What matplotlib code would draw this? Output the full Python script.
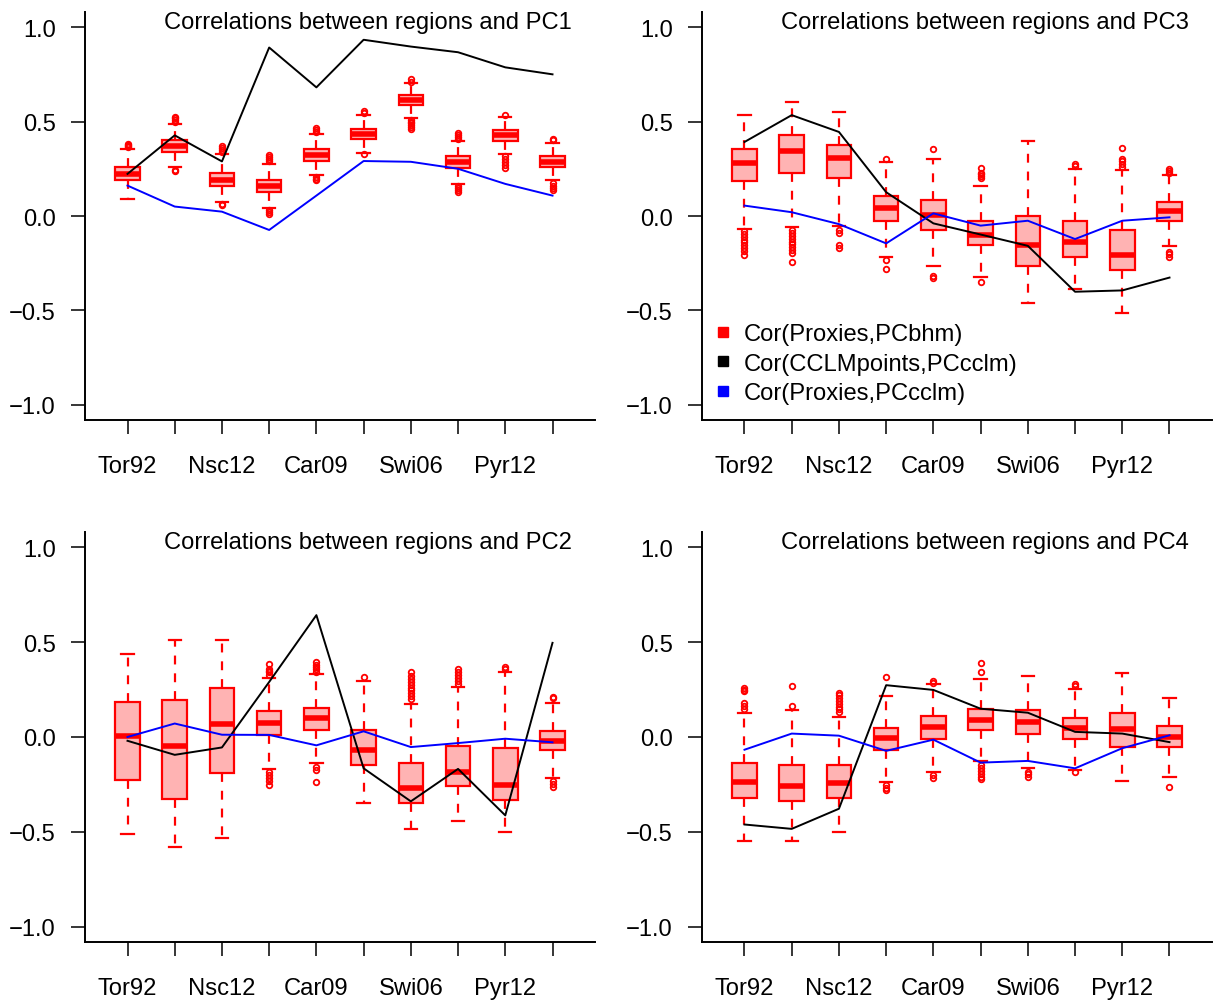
import matplotlib
matplotlib.use("Agg")
import matplotlib.pyplot as plt
from matplotlib.lines import Line2D

plt.rcParams['font.family'] = ['Liberation Sans', 'DejaVu Sans']

regions = ['Tor92', '', 'Nsc12', '', 'Car09', '', 'Swi06', '', 'Pyr12', '']

# PC1
pc1_q1 = [0.188, 0.339, 0.158, 0.126, 0.291, 0.410, 0.587, 0.254, 0.397, 0.259]
pc1_med = [0.220, 0.369, 0.193, 0.158, 0.324, 0.436, 0.613, 0.285, 0.427, 0.287]
pc1_q3 = [0.259, 0.400, 0.229, 0.188, 0.353, 0.463, 0.640, 0.316, 0.454, 0.316]
pc1_lo = [0.090, 0.259, 0.076, 0.041, 0.215, 0.335, 0.521, 0.170, 0.330, 0.188]
pc1_hi = [0.356, 0.489, 0.330, 0.277, 0.436, 0.534, 0.702, 0.397, 0.525, 0.387]
pc1_out = [[0.365, 0.372, 0.378, 0.383],
           [0.50, 0.51, 0.518, 0.525, 0.245, 0.238],
           [0.34, 0.352, 0.362, 0.37, 0.065, 0.059],
           [0.29, 0.30, 0.312, 0.321, 0.03, 0.02, 0.011],
           [0.445, 0.455, 0.466, 0.205, 0.195, 0.19],
           [0.545, 0.555, 0.328],
           [0.712, 0.723, 0.51, 0.50, 0.49, 0.48, 0.47, 0.463],
           [0.41, 0.42, 0.43, 0.44, 0.16, 0.15, 0.14, 0.129],
           [0.534, 0.32, 0.30, 0.285, 0.27, 0.254],
           [0.40, 0.406, 0.175, 0.16, 0.148, 0.138]]
pc1_cclm = [0.223, 0.427, 0.289, 0.892, 0.681, 0.933, 0.897, 0.867, 0.787, 0.750]
pc1_prox = [0.161, 0.050, 0.023, -0.074, 0.108, 0.291, 0.287, 0.250, 0.170, 0.108]

# PC2
pc2_q1 = [-0.227, -0.324, -0.191, 0.012, 0.035, -0.147, -0.346, -0.259, -0.333, -0.071]
pc2_med = [0.004, -0.050, 0.066, 0.074, 0.098, -0.071, -0.271, -0.183, -0.254, -0.020]
pc2_q3 = [0.184, 0.193, 0.257, 0.137, 0.154, 0.039, -0.135, -0.050, -0.059, 0.034]
pc2_lo = [-0.511, -0.582, -0.534, -0.168, -0.138, -0.346, -0.484, -0.445, -0.502, -0.215]
pc2_hi = [0.438, 0.509, 0.512, 0.309, 0.332, 0.293, 0.172, 0.261, 0.344, 0.181]
pc2_out = [[], [], [],
           [0.325, 0.34, 0.35, 0.36, 0.385, -0.185, -0.2, -0.215, -0.23, -0.254],
           [0.345, 0.36, 0.37, 0.38, 0.394, -0.16, -0.175, -0.236],
           [0.317],
           [0.2, 0.215, 0.23, 0.245, 0.26, 0.275, 0.29, 0.305, 0.32, 0.34],
           [0.28, 0.295, 0.31, 0.325, 0.34, 0.358],
           [0.36, 0.37],
           [0.207, 0.21, -0.23, -0.245, -0.262]]
pc2_cclm = [-0.020, -0.094, -0.055, 0.290, 0.642, -0.165, -0.339, -0.168, -0.413, 0.496]
pc2_prox = [0.000, 0.071, 0.012, 0.011, -0.044, 0.030, -0.053, -0.032, -0.009, -0.028]

# PC3
pc3_q1 = [0.183, 0.229, 0.200, -0.025, -0.074, -0.154, -0.264, -0.215, -0.285, -0.025]
pc3_med = [0.282, 0.342, 0.307, 0.041, 0.005, -0.098, -0.154, -0.140, -0.206, 0.028]
pc3_q3 = [0.356, 0.427, 0.374, 0.108, 0.083, -0.028, 0.002, -0.025, -0.073, 0.076]
pc3_lo = [-0.069, -0.060, -0.051, -0.215, -0.264, -0.323, -0.463, -0.388, -0.512, -0.161]
pc3_hi = [0.534, 0.605, 0.548, 0.285, 0.303, 0.158, 0.397, 0.250, 0.245, 0.215]
pc3_out = [[-0.08, -0.095, -0.11, -0.125, -0.14, -0.155, -0.17, -0.185, -0.207],
           [-0.075, -0.09, -0.105, -0.12, -0.135, -0.15, -0.165, -0.18, -0.195, -0.246],
           [-0.075, -0.09, -0.155, -0.172],
           [0.303, -0.232, -0.278],
           [0.353, -0.315, -0.328],
           [0.2, 0.21, 0.22, 0.23, 0.254, -0.348],
           [],
           [0.265, 0.277],
           [0.26, 0.275, 0.29, 0.30, 0.36],
           [0.23, 0.24, 0.25, -0.19, -0.2, -0.216]]
pc3_cclm = [0.392, 0.534, 0.445, 0.126, -0.039, -0.098, -0.158, -0.401, -0.394, -0.326]
pc3_prox = [0.055, 0.020, -0.043, -0.145, 0.014, -0.051, -0.025, -0.122, -0.025, -0.007]

# PC4
pc4_q1 = [-0.319, -0.337, -0.319, -0.067, -0.009, 0.035, 0.018, -0.009, -0.053, -0.051]
pc4_med = [-0.236, -0.259, -0.241, -0.005, 0.053, 0.092, 0.080, 0.048, 0.043, 0.000]
pc4_q3 = [-0.138, -0.147, -0.147, 0.048, 0.110, 0.149, 0.140, 0.101, 0.128, 0.057]
pc4_lo = [-0.546, -0.546, -0.502, -0.236, -0.183, -0.129, -0.161, -0.174, -0.230, -0.209]
pc4_hi = [0.128, 0.140, 0.106, 0.216, 0.278, 0.305, 0.319, 0.252, 0.337, 0.207]
pc4_out = [[0.15, 0.165, 0.18, 0.24, 0.25, 0.257],
           [0.163, 0.27],
           [0.13, 0.145, 0.16, 0.175, 0.19, 0.205, 0.22, 0.234],
           [0.314, -0.255, -0.27, -0.28],
           [0.285, 0.296, -0.2, -0.218],
           [0.34, 0.388, -0.15, -0.165, -0.18, -0.195, -0.21, -0.223],
           [-0.183, -0.195, -0.209],
           [0.27, 0.28, -0.186],
           [],
           [-0.262]]
pc4_cclm = [-0.461, -0.484, -0.378, 0.273, 0.248, 0.149, 0.128, 0.027, 0.018, -0.027]
pc4_prox = [-0.067, 0.018, 0.007, -0.073, -0.014, -0.135, -0.126, -0.165, -0.059, 0.009]

legend_labels = ['Cor(Proxies,PCbhm)', 'Cor(CCLMpoints,PCcclm)', 'Cor(Proxies,PCcclm)']

FS = 17.1


def draw_panel(ax, name, q1, med, q3, lo, hi, out, cclm, prox):
    stats = []
    for i in range(len(med)):
        stats.append(dict(q1=q1[i], med=med[i], q3=q3[i], whislo=lo[i],
                          whishi=hi[i], fliers=out[i]))
    pos = list(range(1, len(med) + 1))
    ax.bxp(stats, positions=pos, widths=0.52, patch_artist=True,
           boxprops=dict(facecolor='#ffb3b3', edgecolor='red', linewidth=1.6),
           medianprops=dict(color='red', linewidth=4, solid_capstyle='butt'),
           whiskerprops=dict(color='red', linewidth=1.6, linestyle=(0, (4, 4))),
           capprops=dict(color='red', linewidth=1.6),
           capwidths=0.26,
           flierprops=dict(marker='o', markersize=4, markerfacecolor='none',
                           markeredgecolor='red', markeredgewidth=1.3))
    ax.plot(pos, cclm, color='black', linewidth=1.4, zorder=5)
    ax.plot(pos, prox, color='blue', linewidth=1.4, zorder=5)

    ax.set_xlim(0.1, 10.9)
    ax.set_ylim(-1.08, 1.08)
    ax.set_xticks(pos)
    ax.set_xticklabels(regions, fontsize=FS)
    ax.set_yticks([-1.0, -0.5, 0.0, 0.5, 1.0])
    ax.set_yticklabels(['\u22121.0', '\u22120.5', '0.0', '0.5', '1.0'], fontsize=FS)
    ax.spines['top'].set_visible(False)
    ax.spines['right'].set_visible(False)
    ax.spines['left'].set_linewidth(1.4)
    ax.spines['bottom'].set_linewidth(1.4)
    ax.tick_params(axis='x', length=10, width=1.1, pad=15)
    ax.tick_params(axis='y', length=10, width=1.1, pad=11)
    ax.text(0.554, 0.961, 'Correlations between regions and ' + name,
            transform=ax.transAxes, ha='center', va='baseline', fontsize=FS)


fig = plt.figure(figsize=(12.13, 10.03), dpi=100)
W, H = 1213.0, 1003.0
ax1 = fig.add_axes([85 / W, 1 - 421 / H, 510 / W, 408 / H])
ax3 = fig.add_axes([702 / W, 1 - 421 / H, 510 / W, 408 / H])
ax2 = fig.add_axes([85 / W, 1 - 943 / H, 510 / W, 410 / H])
ax4 = fig.add_axes([702 / W, 1 - 943 / H, 510 / W, 410 / H])

draw_panel(ax1, 'PC1', pc1_q1, pc1_med, pc1_q3, pc1_lo, pc1_hi, pc1_out, pc1_cclm, pc1_prox)
draw_panel(ax3, 'PC3', pc3_q1, pc3_med, pc3_q3, pc3_lo, pc3_hi, pc3_out, pc3_cclm, pc3_prox)
draw_panel(ax2, 'PC2', pc2_q1, pc2_med, pc2_q3, pc2_lo, pc2_hi, pc2_out, pc2_cclm, pc2_prox)
draw_panel(ax4, 'PC4', pc4_q1, pc4_med, pc4_q3, pc4_lo, pc4_hi, pc4_out, pc4_cclm, pc4_prox)

handles = [Line2D([], [], marker='s', linestyle='none', markersize=7.2,
                  markerfacecolor=c, markeredgecolor=c)
           for c in ['red', 'black', 'blue']]
ax3.legend(handles, legend_labels, loc='center left', bbox_to_anchor=(0.029, 0.138),
           frameon=False, fontsize=FS, handlelength=0.5, handletextpad=0.65,
           labelspacing=0.32, borderpad=0, borderaxespad=0)

fig.savefig('out.png', dpi=100)
